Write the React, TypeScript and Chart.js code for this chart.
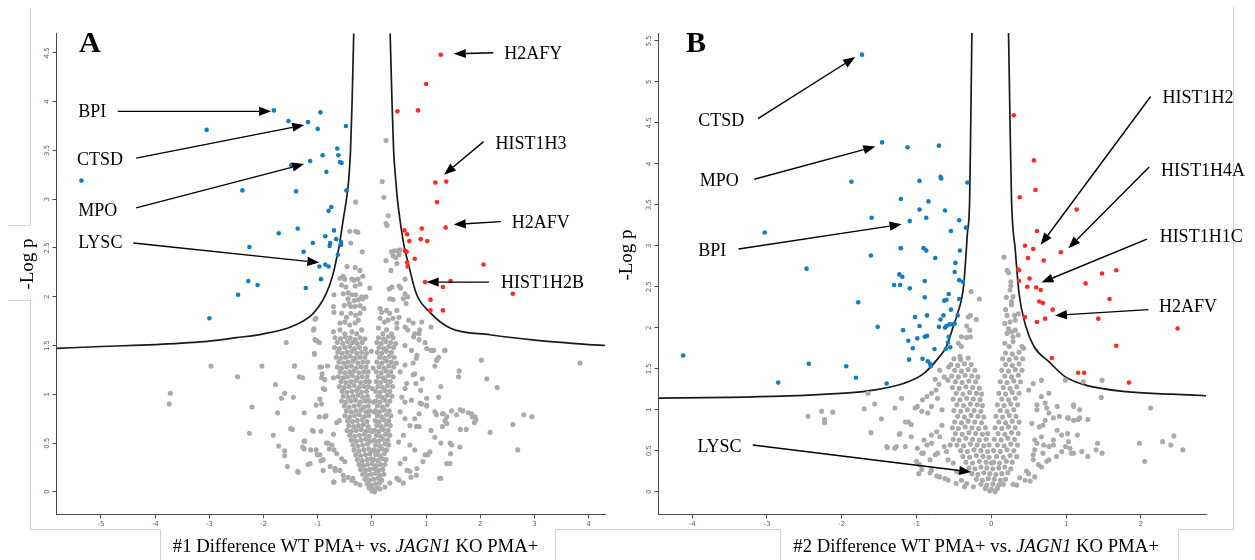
import React, { useEffect, useRef } from 'react';
import { Chart, registerables } from 'chart.js';
Chart.register(...registerables);

type P = [number, number];

// ---------------- Panel A data ----------------
const A_X_TICKS = [-5, -4, -3, -2, -1, 0, 1, 2, 3, 4];
const A_Y_TICKS = [0, 0.5, 1, 1.5, 2, 2.5, 3, 3.5, 4, 4.5];

const A_BLUE: P[] = [
  [-1.81, 3.91], [-1.54, 3.80], [-1.18, 3.79], [-0.95, 3.89], [-1.00, 3.72], [-0.48, 3.75], [-3.05, 3.71], [-5.36, 3.19],
  [-0.64, 3.52], [-0.91, 3.45], [-0.62, 3.45], [-0.59, 3.38], [-0.56, 3.37], [-1.14, 3.39], [-1.49, 3.35], [-0.84, 3.28],
  [-2.39, 3.09], [-1.40, 3.08], [-0.47, 3.09], [-0.75, 2.92], [-0.80, 2.88], [-1.72, 2.65], [-1.37, 2.70], [-0.70, 2.68],
  [-0.86, 2.62], [-0.66, 2.59], [-0.57, 2.56], [-0.77, 2.55], [-0.78, 2.52], [-0.57, 2.53], [-1.09, 2.55], [-2.26, 2.51],
  [-1.26, 2.46], [-0.63, 2.43], [-0.97, 2.31], [-0.86, 2.33], [-0.80, 2.31], [-0.94, 2.18], [-1.22, 2.09], [-2.28, 2.16],
  [-2.11, 2.12], [-2.47, 2.02], [-3.00, 1.78],
];

const A_RED: P[] = [
  [1.27, 4.48], [1.00, 4.18], [0.47, 3.90], [0.85, 3.91], [1.17, 3.17], [1.37, 3.18], [1.20, 2.97], [1.36, 2.71],
  [0.92, 2.70], [0.60, 2.68], [0.65, 2.64], [0.69, 2.57], [0.90, 2.59], [1.02, 2.57], [0.64, 2.46], [0.61, 2.47],
  [0.79, 2.39], [0.65, 2.35], [0.66, 2.31], [2.06, 2.33], [0.98, 2.15], [1.45, 2.16], [1.31, 2.10], [1.08, 1.97],
  [1.08, 1.86], [1.31, 1.86], [2.60, 2.03],
];

const A_GREY_UPPER: P[] = [
  [0.19, 3.18], [0.22, 3.02], [-0.30, 2.97], [0.26, 3.60], [0.30, 2.83], [0.26, 2.75], [0.28, 2.73], [-0.41, 2.67],
  [-0.30, 2.67], [-0.26, 2.66], [-0.39, 2.55], [-0.18, 2.46], [0.36, 2.46], [0.41, 2.47], [0.47, 2.47], [0.52, 2.48],
  [0.39, 2.42], [0.44, 2.40], [0.50, 2.43], [0.26, 2.37], [0.46, 2.34], [-0.46, 2.31], [-0.31, 2.30], [-0.22, 2.27],
  [-0.53, 2.21], [-0.59, 2.19], [-0.50, 2.18], [-0.37, 2.18], [-0.33, 2.17], [-0.26, 2.18], [-0.17, 2.21], [0.35, 2.27],
  [0.61, 2.18], [-0.04, 2.09], [-0.56, 2.12], [-0.48, 2.10], [-0.31, 2.11], [-0.22, 2.13], [0.32, 2.08], [0.37, 2.10],
  [0.50, 2.11], [0.53, 2.09], [0.61, 2.03], [0.66, 2.00], [-0.70, 2.02], [-0.53, 2.03], [-0.44, 2.04], [-0.37, 2.02],
  [-0.30, 2.02], [-0.19, 2.00], [-0.11, 2.00], [-0.44, 1.98], [-0.33, 1.96], [-0.25, 1.97], [-0.17, 1.98], [-0.51, 1.91],
  [-0.42, 1.93], [-0.39, 1.90], [-0.31, 1.90], [-0.22, 1.91], [-0.15, 1.88], [-0.71, 1.90], [0.33, 1.98], [0.39, 1.97],
  [0.58, 1.98], [0.63, 1.93], [0.15, 1.88], [0.18, 1.84], [0.27, 1.86], [0.33, 1.83], [0.46, 1.86], [0.50, 1.79],
  [-0.70, 1.84], [-0.56, 1.83], [-0.47, 1.79], [-0.39, 1.83], [-0.30, 1.81], [-0.22, 1.83], [-1.03, 1.78], [-0.59, 1.73],
  [-0.50, 1.74], [-0.41, 1.71], [-0.31, 1.73], [-0.25, 1.76], [0.15, 1.78], [0.23, 1.74], [0.30, 1.76], [0.39, 1.78],
  [0.46, 1.73], [0.61, 1.69], [0.66, 1.66], [0.92, 1.74], [1.09, 1.69], [-1.08, 1.66], [-0.71, 1.64], [-0.59, 1.66],
  [-0.50, 1.62], [-0.37, 1.64], [-0.28, 1.62], [-0.19, 1.66], [0.12, 1.68], [0.20, 1.62], [0.27, 1.66], [0.36, 1.62],
  [0.46, 1.68], [0.77, 1.59], [0.87, 1.62],
];

const A_GREY_CORE: P[] = [
  [-0.68, 1.58], [-0.58, 1.57], [-0.49, 1.59], [-0.40, 1.58], [-0.31, 1.56], [-0.22, 1.58], [-0.13, 1.57],
  [-0.64, 1.53], [-0.54, 1.52], [-0.45, 1.54], [-0.36, 1.53], [-0.27, 1.52], [-0.18, 1.53],
  [-0.69, 1.48], [-0.60, 1.47], [-0.50, 1.48], [-0.41, 1.49], [-0.32, 1.47], [-0.23, 1.48], [-0.12, 1.47],
  [-0.63, 1.43], [-0.55, 1.42], [-0.46, 1.43], [-0.37, 1.44], [-0.28, 1.42], [-0.19, 1.43], [-0.10, 1.42],
  [-0.66, 1.38], [-0.58, 1.37], [-0.49, 1.38], [-0.40, 1.39], [-0.31, 1.37], [-0.22, 1.38], [-0.13, 1.38],
  [-0.61, 1.33], [-0.52, 1.32], [-0.44, 1.33], [-0.35, 1.34], [-0.26, 1.32], [-0.17, 1.33], [-0.08, 1.33],
  [-0.64, 1.28], [-0.56, 1.27], [-0.47, 1.28], [-0.38, 1.29], [-0.29, 1.27], [-0.20, 1.28], [-0.11, 1.28],
  [-0.59, 1.23], [-0.50, 1.22], [-0.41, 1.23], [-0.33, 1.24], [-0.24, 1.22], [-0.15, 1.23], [-0.07, 1.23],
  [-0.62, 1.18], [-0.53, 1.17], [-0.45, 1.18], [-0.36, 1.19], [-0.27, 1.17], [-0.18, 1.18], [-0.09, 1.18],
  [-0.57, 1.13], [-0.48, 1.12], [-0.39, 1.13], [-0.30, 1.14], [-0.21, 1.12], [-0.12, 1.13], [-0.05, 1.13],
  [-0.60, 1.08], [-0.51, 1.07], [-0.42, 1.08], [-0.33, 1.09], [-0.24, 1.07], [-0.15, 1.08], [-0.07, 1.08],
  [-0.55, 1.03], [-0.46, 1.02], [-0.37, 1.03], [-0.28, 1.04], [-0.19, 1.02], [-0.10, 1.03],
  [-0.53, 0.98], [-0.44, 0.97], [-0.35, 0.98], [-0.26, 0.99], [-0.17, 0.97], [-0.08, 0.98],
  [-0.56, 0.93], [-0.48, 0.92], [-0.39, 0.93], [-0.30, 0.94], [-0.21, 0.92], [-0.12, 0.93], [-0.05, 0.93],
  [-0.51, 0.88], [-0.42, 0.87], [-0.33, 0.88], [-0.24, 0.89], [-0.15, 0.87], [-0.07, 0.88],
  [-0.47, 0.83], [-0.38, 0.82], [-0.29, 0.83], [-0.20, 0.84], [-0.11, 0.82], [-0.04, 0.83],
  [-0.50, 0.78], [-0.41, 0.77], [-0.32, 0.78], [-0.23, 0.79], [-0.14, 0.77], [-0.06, 0.78],
  [-0.45, 0.73], [-0.36, 0.72], [-0.27, 0.73], [-0.18, 0.74], [-0.09, 0.72],
  [-0.43, 0.68], [-0.34, 0.67], [-0.25, 0.68], [-0.16, 0.69], [-0.07, 0.67],
  [-0.46, 0.63], [-0.38, 0.62], [-0.29, 0.63], [-0.20, 0.64], [-0.11, 0.62], [-0.03, 0.63],
  [-0.41, 0.58], [-0.32, 0.57], [-0.23, 0.58], [-0.14, 0.59], [-0.05, 0.57],
  [-0.38, 0.53], [-0.29, 0.52], [-0.20, 0.53], [-0.11, 0.54], [-0.03, 0.52],
  [-0.35, 0.48], [-0.26, 0.47], [-0.17, 0.48], [-0.08, 0.49],
  [-0.33, 0.43], [-0.24, 0.42], [-0.15, 0.43], [-0.06, 0.44], [0.00, 0.42],
  [-0.30, 0.38], [-0.21, 0.37], [-0.12, 0.38], [-0.04, 0.39],
  [-0.27, 0.33], [-0.18, 0.32], [-0.09, 0.33], [-0.01, 0.34],
  [0.12, 1.58], [0.21, 1.57], [0.30, 1.59], [0.39, 1.58],
  [0.09, 1.53], [0.17, 1.52], [0.26, 1.54], [0.35, 1.53], [0.44, 1.52],
  [0.13, 1.48], [0.22, 1.47], [0.31, 1.49], [0.40, 1.48],
  [0.10, 1.43], [0.18, 1.42], [0.27, 1.44], [0.36, 1.43],
  [0.14, 1.38], [0.23, 1.37], [0.32, 1.39], [0.41, 1.38],
  [0.09, 1.33], [0.18, 1.32], [0.27, 1.34], [0.36, 1.33], [0.45, 1.32],
  [0.13, 1.28], [0.22, 1.27], [0.31, 1.29], [0.40, 1.28],
  [0.08, 1.23], [0.17, 1.22], [0.26, 1.24], [0.35, 1.23],
  [0.12, 1.18], [0.21, 1.17], [0.30, 1.19], [0.39, 1.18],
  [0.08, 1.13], [0.16, 1.12], [0.25, 1.14], [0.34, 1.13],
  [0.11, 1.08], [0.20, 1.07], [0.29, 1.09], [0.38, 1.08],
  [0.07, 1.03], [0.15, 1.02], [0.24, 1.04], [0.33, 1.03],
  [0.11, 0.98], [0.19, 0.97], [0.28, 0.99], [0.37, 0.98],
  [0.07, 0.93], [0.15, 0.92], [0.24, 0.94], [0.33, 0.93],
  [0.10, 0.88], [0.19, 0.87], [0.28, 0.89],
  [0.06, 0.83], [0.14, 0.82], [0.23, 0.84], [0.32, 0.83],
  [0.10, 0.78], [0.18, 0.77], [0.27, 0.79], [0.35, 0.78],
  [0.06, 0.73], [0.14, 0.72], [0.22, 0.74], [0.31, 0.73],
  [0.09, 0.68], [0.17, 0.67], [0.26, 0.69], [0.34, 0.68],
  [0.05, 0.63], [0.13, 0.62], [0.21, 0.64], [0.30, 0.63],
  [0.08, 0.58], [0.16, 0.57], [0.25, 0.59], [0.33, 0.58],
  [0.04, 0.53], [0.12, 0.52], [0.20, 0.54], [0.29, 0.53],
  [0.07, 0.48], [0.15, 0.47], [0.24, 0.49], [0.31, 0.48],
  [0.04, 0.43], [0.11, 0.42], [0.19, 0.44], [0.27, 0.43],
  [0.07, 0.38], [0.15, 0.37], [0.23, 0.39],
  [0.03, 0.33], [0.11, 0.32], [0.19, 0.34], [0.26, 0.33],
  [-0.24, 0.28], [-0.16, 0.27], [-0.08, 0.28], [0.00, 0.29], [0.08, 0.27], [0.16, 0.28], [0.24, 0.28],
  [-0.21, 0.23], [-0.12, 0.22], [-0.04, 0.23], [0.04, 0.24], [0.12, 0.22], [0.20, 0.23],
  [-0.17, 0.18], [-0.09, 0.17], [-0.01, 0.18], [0.07, 0.19], [0.15, 0.17], [0.22, 0.18],
  [-0.13, 0.13], [-0.05, 0.12], [0.03, 0.13], [0.11, 0.14], [0.18, 0.12],
  [-0.09, 0.08], [-0.01, 0.07], [0.07, 0.08], [0.14, 0.09],
  [-0.05, 0.04], [0.03, 0.03], [0.10, 0.04], [0.00, 0.01], [0.05, 0.00],
];

const A_GREY_OUTER: P[] = [
  [-1.58, 1.53], [-2.97, 1.29], [-2.03, 1.29], [-2.48, 1.18], [-1.43, 1.29], [-1.34, 1.18], [-1.28, 1.17], [-3.72, 1.01],
  [-3.74, 0.90], [-1.78, 1.10], [-1.61, 1.01], [-1.67, 0.96], [-1.45, 0.97], [-2.21, 0.87], [-1.74, 0.81], [-1.25, 0.81],
  [-1.50, 0.65], [-1.47, 0.64], [-2.26, 0.60], [-1.82, 0.58], [-1.72, 0.47], [-1.61, 0.42], [-1.61, 0.37], [-1.56, 0.26],
  [-1.36, 0.20], [-1.25, 0.52], [-1.18, 0.28], [-1.05, 1.77], [-1.07, 1.67], [-1.02, 1.55], [-1.06, 1.41], [-0.96, 1.28],
  [-0.92, 1.21], [-0.87, 1.15], [-0.90, 1.06], [-1.03, 0.89], [-0.97, 0.77], [-0.87, 0.77], [-1.10, 0.63], [-1.28, 0.46],
  [-1.03, 0.43], [-1.01, 0.38], [-0.94, 0.32], [-0.81, 0.50], [-0.70, 0.43], [-0.90, 0.22], [-0.68, 0.22], [-0.70, 0.10],
  [-0.52, 0.12], [-0.37, 0.12], [-0.30, 0.09],
  [1.14, 1.45], [1.23, 1.38], [1.34, 1.45], [1.16, 1.29], [1.61, 1.24], [1.60, 1.18], [2.02, 1.35], [2.12, 1.16],
  [2.31, 1.07], [3.84, 1.32], [1.27, 1.08], [1.23, 0.97], [0.92, 0.90], [1.01, 0.88], [1.16, 0.82], [1.30, 0.80],
  [1.38, 0.77], [1.47, 0.83], [1.63, 0.84], [1.78, 0.81], [1.85, 0.77], [1.92, 0.74], [1.89, 0.71], [2.80, 0.79],
  [2.95, 0.77], [2.60, 0.69], [2.18, 0.61], [2.69, 0.43], [1.63, 0.64], [1.74, 0.64], [1.38, 0.70], [1.30, 0.67],
  [1.09, 0.63], [1.16, 0.56], [1.27, 0.50], [0.87, 0.80], [0.79, 0.75], [0.87, 0.67], [1.44, 0.50], [1.45, 0.39],
  [1.38, 0.29], [1.27, 0.14], [0.83, 0.24], [0.94, 0.31], [1.03, 0.38], [0.65, 0.22], [0.72, 0.15], [0.50, 0.12],
  [0.58, 0.09], [0.93, 1.16], [0.90, 1.04], [1.01, 0.96], [0.79, 1.21], [0.76, 1.32], [0.83, 1.40], [0.87, 1.56],
  [0.79, 1.62], [0.88, 1.66], [1.09, 1.45], [1.20, 1.35], [0.68, 1.76], [0.76, 1.73],
  [-1.43, 1.29], [-1.05, 1.56], [-0.97, 1.53], [-1.06, 1.42], [-0.93, 1.28], [-0.82, 1.29], [-0.93, 1.17], [-0.71, 1.17],
  [-0.87, 1.05], [-0.96, 0.95], [-0.93, 0.90], [-0.85, 0.78], [-0.60, 0.73], [-0.65, 0.71], [-0.71, 0.59], [-0.84, 0.50],
  [-0.74, 0.48], [-0.79, 0.44], [-1.08, 0.62], [-0.94, 0.62], [-1.24, 0.52], [-1.25, 0.44], [-1.13, 0.43], [-0.96, 0.38],
  [-0.90, 0.33], [-0.65, 0.39], [-0.56, 0.34], [-0.50, 0.31], [-0.77, 0.26], [-0.68, 0.24], [-0.59, 0.22], [-0.53, 0.17],
  [-0.44, 0.15], [-0.35, 0.14], [-0.71, 0.10], [-0.22, 0.07], [-1.37, 0.21], [-1.14, 0.29],
  [0.61, 1.50], [0.73, 1.45], [0.82, 1.37], [0.98, 1.53], [1.01, 1.47], [1.19, 1.35], [1.35, 1.45], [0.61, 1.30],
  [0.52, 1.23], [0.76, 1.20], [0.81, 1.11], [0.64, 1.11], [0.61, 1.06], [0.55, 0.97], [0.61, 0.92], [0.73, 0.94],
  [0.89, 0.91], [1.01, 0.89], [0.52, 0.82], [0.61, 0.75], [0.70, 0.68], [0.82, 0.67], [0.58, 0.58], [0.49, 0.51],
  [0.70, 0.48], [0.79, 0.43], [0.61, 0.34], [0.52, 0.29], [0.70, 0.21], [0.82, 0.17], [0.46, 0.14], [0.33, 0.09],
  [0.24, 0.05], [0.15, 0.03], [1.19, 0.79], [1.32, 0.80], [1.56, 0.79], [1.68, 0.83], [1.84, 0.80], [1.90, 0.77],
  [1.35, 0.73], [1.47, 0.48], [1.62, 0.46], [1.44, 0.29], [1.07, 0.41], [0.98, 0.38], [1.25, 0.14],
  [0.02, 1.27], [0.01, 1.06], [0.04, 0.82], [0.00, 0.62], [-0.01, 1.44], [0.03, 0.92],
];

const A_CURVE_L: P[] = [
  [-5.82, 1.47], [-5, 1.49], [-4, 1.51], [-3, 1.545], [-2.5, 1.58], [-2, 1.62], [-1.5, 1.69], [-1.1, 1.82],
  [-0.9, 1.97], [-0.78, 2.12], [-0.7, 2.27], [-0.65, 2.4], [-0.61, 2.5], [-0.53, 2.79], [-0.47, 3.0],
  [-0.43, 3.19], [-0.395, 3.5], [-0.366, 4.0], [-0.336, 4.7],
];
const A_CURVE_R: P[] = [
  [0.336, 4.7], [0.37, 4.0], [0.40, 3.5], [0.44, 3.19], [0.47, 3.0], [0.54, 2.7], [0.6, 2.5], [0.67, 2.34],
  [0.82, 2.03], [1.07, 1.84], [1.44, 1.68], [2.18, 1.61], [3, 1.555], [4, 1.51], [4.3, 1.5],
];

const A_NOTES = [
  { text: 'BPI', tx: -5.42, ty: 3.89, ax: -4.69, ay: 3.90, bx: -1.86, by: 3.90 },
  { text: 'CTSD', tx: -5.44, ty: 3.40, ax: -4.35, ay: 3.42, bx: -1.25, by: 3.76 },
  { text: 'MPO', tx: -5.42, ty: 2.88, ax: -4.35, ay: 2.91, bx: -1.25, by: 3.36 },
  { text: 'LYSC', tx: -5.42, ty: 2.55, ax: -4.40, ay: 2.55, bx: -0.97, by: 2.35 },
  { text: 'H2AFY', tx: 2.44, ty: 4.49, ax: 2.24, ay: 4.50, bx: 1.51, by: 4.49 },
  { text: 'HIST1H3', tx: 2.28, ty: 3.56, ax: 2.06, ay: 3.59, bx: 1.33, by: 3.25 },
  { text: 'H2AFV', tx: 2.58, ty: 2.75, ax: 2.38, ay: 2.77, bx: 1.51, by: 2.74 },
  { text: 'HIST1H2B', tx: 2.38, ty: 2.14, ax: 2.16, ay: 2.15, bx: 1.01, by: 2.15 },
];

// ---------------- Panel B data ----------------
const B_X_TICKS = [-4, -3, -2, -1, 0, 1, 2];
const B_Y_TICKS = [0, 0.5, 1, 1.5, 2, 2.5, 3, 3.5, 4, 4.5, 5, 5.5];

const B_BLUE: P[] = [
  [-1.73, 5.33], [-1.46, 4.26], [-1.12, 4.20], [-0.70, 4.22], [-1.87, 3.78], [-0.96, 3.79], [-0.68, 3.84], [-0.67, 3.82],
  [-0.32, 3.77], [-1.21, 3.57], [-0.84, 3.54], [-0.96, 3.44], [-0.62, 3.43], [-1.60, 3.34], [-0.87, 3.34], [-1.09, 3.30],
  [-0.43, 3.31], [-0.34, 3.22], [-0.54, 3.18], [-3.03, 3.16], [-1.21, 2.97], [-0.905, 2.97], [-0.87, 2.94], [-0.42, 2.94],
  [-1.61, 2.88], [-0.75, 2.85], [-2.47, 2.72], [-0.48, 2.79], [-0.49, 2.68], [-1.23, 2.65], [-1.19, 2.62], [-0.43, 2.58],
  [-0.38, 2.56], [-1.30, 2.52], [-1.22, 2.52], [-0.89, 2.57], [-1.09, 2.48], [-0.89, 2.37], [-0.57, 2.41], [-0.63, 2.33],
  [-0.60, 2.34], [-0.43, 2.35], [-0.54, 2.22], [-0.86, 2.15], [-1.02, 2.13], [-0.64, 2.15], [-0.68, 2.10], [-0.45, 2.15],
  [-0.96, 2.02], [-1.18, 1.97], [-0.70, 2.01], [-0.62, 2.00], [-0.60, 2.02], [-0.56, 2.04], [-0.52, 2.04], [-0.49, 2.05],
  [-0.89, 1.89], [-0.86, 1.90], [-0.99, 1.87], [-1.11, 1.84], [-1.05, 1.75], [-0.76, 1.74], [-0.58, 1.82], [-0.55, 1.76],
  [-0.61, 1.74], [-0.57, 1.89], [-1.10, 1.61], [-0.92, 1.62], [-0.85, 1.59], [-0.82, 1.56], [-0.81, 1.53], [-4.12, 1.66],
  [-2.44, 1.56], [-1.94, 1.53], [-1.81, 1.39], [-2.85, 1.33], [-1.40, 1.32], [-1.78, 2.31], [-1.52, 2.01],
];

const B_RED: P[] = [
  [0.30, 4.59], [0.57, 4.04], [0.59, 3.68], [0.38, 3.59], [1.14, 3.44], [0.61, 3.18], [0.45, 3.00], [0.56, 2.96],
  [0.93, 2.92], [0.49, 2.85], [0.70, 2.82], [0.36, 2.71], [0.37, 2.70], [1.48, 2.66], [1.67, 2.70], [0.51, 2.60],
  [0.37, 2.57], [0.48, 2.50], [0.60, 2.49], [0.66, 2.46], [0.64, 2.32], [0.69, 2.30], [0.82, 2.22], [0.45, 2.13],
  [0.61, 2.07], [0.72, 2.11], [1.26, 2.54], [1.58, 2.35], [1.43, 2.11], [2.49, 1.99], [1.67, 1.78], [0.81, 1.63],
  [1.16, 1.45], [1.24, 1.45], [1.84, 1.33],
];

const B_GREY_UPPER: P[] = [
  [0.17, 2.86], [0.21, 2.70], [0.23, 2.67], [0.26, 2.56], [0.26, 2.51], [0.25, 2.46], [0.20, 2.37], [0.29, 2.38],
  [0.27, 2.32], [0.27, 2.28], [0.19, 2.22], [0.21, 2.15], [0.31, 2.15], [0.18, 2.05], [0.25, 2.07], [0.32, 2.09],
  [0.36, 2.17], [0.23, 1.99], [0.27, 1.95], [0.32, 1.97], [0.21, 1.93], [0.29, 1.89], [0.36, 1.91], [0.18, 1.81],
  [0.24, 1.77], [0.29, 1.83], [0.41, 1.77], [0.43, 1.75], [-0.27, 2.44], [-0.16, 2.35], [-0.28, 2.15], [-0.31, 2.13],
  [-0.20, 2.10], [-0.33, 2.02], [-0.29, 1.97], [-0.40, 1.89], [-0.33, 1.88], [-0.28, 1.89], [-0.44, 1.81], [-0.40, 1.77],
];

const B_GREY_CORE: P[] = [
  [-0.50, 1.62], [-0.41, 1.61], [-0.31, 1.63],
  [-0.54, 1.55], [-0.45, 1.54], [-0.36, 1.56], [-0.27, 1.55],
  [-0.49, 1.48], [-0.40, 1.47], [-0.31, 1.49], [-0.22, 1.48],
  [-0.53, 1.41], [-0.44, 1.40], [-0.35, 1.42], [-0.26, 1.41], [-0.18, 1.40],
  [-0.48, 1.34], [-0.39, 1.33], [-0.30, 1.35], [-0.21, 1.34],
  [-0.52, 1.27], [-0.43, 1.26], [-0.34, 1.28], [-0.25, 1.27], [-0.16, 1.26],
  [-0.47, 1.20], [-0.38, 1.19], [-0.29, 1.21], [-0.20, 1.20], [-0.13, 1.19],
  [-0.51, 1.13], [-0.42, 1.12], [-0.33, 1.14], [-0.24, 1.13], [-0.15, 1.12],
  [-0.46, 1.06], [-0.37, 1.05], [-0.28, 1.07], [-0.19, 1.06], [-0.12, 1.05],
  [-0.50, 0.99], [-0.41, 0.98], [-0.32, 1.00], [-0.23, 0.99], [-0.14, 0.98],
  [-0.45, 0.92], [-0.36, 0.91], [-0.27, 0.93], [-0.18, 0.92], [-0.10, 0.91],
  [-0.49, 0.85], [-0.40, 0.84], [-0.31, 0.86], [-0.22, 0.85], [-0.13, 0.84],
  [-0.52, 0.78], [-0.44, 0.77], [-0.35, 0.79], [-0.26, 0.78], [-0.17, 0.77], [-0.08, 0.78],
  [-0.48, 0.71], [-0.39, 0.70], [-0.30, 0.72], [-0.21, 0.71], [-0.12, 0.70], [-0.05, 0.71],
  [-0.51, 0.64], [-0.43, 0.63], [-0.34, 0.65], [-0.25, 0.64], [-0.16, 0.63], [-0.07, 0.64],
  [-0.46, 0.57], [-0.37, 0.56], [-0.28, 0.58], [-0.19, 0.57], [-0.10, 0.56], [-0.03, 0.57],
  [-0.41, 0.50], [-0.32, 0.49], [-0.23, 0.51], [-0.14, 0.50], [-0.05, 0.49],
  [-0.38, 0.43], [-0.29, 0.42], [-0.20, 0.44], [-0.11, 0.43], [-0.03, 0.42],
  [-0.34, 0.36], [-0.25, 0.35], [-0.16, 0.37], [-0.07, 0.36], [0.00, 0.35],
  [0.19, 1.69], [0.28, 1.68], [0.37, 1.70],
  [0.15, 1.62], [0.24, 1.61], [0.33, 1.63], [0.42, 1.62],
  [0.19, 1.55], [0.28, 1.54], [0.37, 1.56],
  [0.14, 1.48], [0.23, 1.47], [0.32, 1.49], [0.41, 1.48],
  [0.18, 1.41], [0.27, 1.40], [0.36, 1.42],
  [0.12, 1.34], [0.21, 1.33], [0.30, 1.35], [0.39, 1.34],
  [0.16, 1.27], [0.25, 1.26], [0.34, 1.28],
  [0.10, 1.20], [0.19, 1.19], [0.28, 1.21], [0.37, 1.20],
  [0.14, 1.13], [0.23, 1.12], [0.32, 1.14],
  [0.08, 1.06], [0.17, 1.05], [0.26, 1.07], [0.35, 1.06],
  [0.12, 0.99], [0.21, 0.98], [0.30, 1.00],
  [0.06, 0.92], [0.15, 0.91], [0.24, 0.93], [0.33, 0.92],
  [0.10, 0.85], [0.19, 0.84], [0.28, 0.86], [0.37, 0.85],
  [0.05, 0.78], [0.14, 0.77], [0.23, 0.79], [0.32, 0.78],
  [0.09, 0.71], [0.18, 0.70], [0.27, 0.72], [0.36, 0.71],
  [0.04, 0.64], [0.13, 0.63], [0.22, 0.65], [0.31, 0.64],
  [0.08, 0.57], [0.17, 0.56], [0.26, 0.58], [0.35, 0.57],
  [0.03, 0.50], [0.12, 0.49], [0.21, 0.51], [0.30, 0.50],
  [0.07, 0.43], [0.16, 0.42], [0.25, 0.44], [0.34, 0.43],
  [0.03, 0.36], [0.11, 0.35], [0.20, 0.37], [0.28, 0.36],
  [-0.30, 0.29], [-0.22, 0.28], [-0.14, 0.30], [-0.06, 0.29], [0.02, 0.28], [0.10, 0.29], [0.18, 0.30], [0.26, 0.28],
  [-0.26, 0.22], [-0.18, 0.21], [-0.10, 0.23], [-0.02, 0.22], [0.06, 0.21], [0.14, 0.22], [0.22, 0.23],
  [-0.20, 0.15], [-0.12, 0.14], [-0.04, 0.16], [0.04, 0.15], [0.12, 0.14], [0.19, 0.15],
  [-0.14, 0.09], [-0.06, 0.08], [0.02, 0.09], [0.10, 0.08], [0.16, 0.09],
  [-0.08, 0.04], [0.00, 0.03], [0.08, 0.04], [-0.02, 0.01], [0.05, 0.00],
];

const B_GREY_OUTER: P[] = [
  [-2.45, 0.92], [-2.27, 0.98], [-2.23, 0.88], [-2.23, 0.84], [-2.12, 0.97], [-1.70, 1.01], [-1.65, 1.20], [-1.56, 1.07],
  [-1.47, 0.89], [-1.61, 0.72], [-1.39, 0.54], [-1.27, 0.55], [-1.23, 0.70], [-1.11, 0.85], [-1.07, 0.82], [-0.96, 0.33],
  [-0.80, 0.26], [-0.97, 0.22], [-0.82, 0.23], [-0.99, 1.04], [-0.93, 0.98], [-0.80, 1.04], [-0.66, 1.00], [-0.72, 1.14],
  [-0.74, 1.24], [-0.85, 0.96], [-0.90, 0.63], [-0.80, 0.59], [-0.69, 0.67], [-0.63, 0.55], [-0.72, 0.47], [-0.58, 0.39],
  [-0.99, 0.53], [-0.93, 0.47], [-1.07, 0.67], [-1.15, 0.55], [-0.69, 0.18], [-0.58, 0.14], [-0.47, 0.10], [-0.36, 0.06],
  [-0.69, 1.48], [-0.63, 1.40], [-0.57, 1.52], [-0.58, 1.36], [-0.42, 1.65],
  [0.88, 1.04], [0.91, 0.92], [1.02, 0.90], [1.10, 0.87], [1.18, 0.90], [1.10, 1.04], [1.18, 1.00], [1.29, 0.88],
  [1.23, 1.34], [1.47, 1.15], [1.48, 1.36], [2.13, 1.02], [1.98, 0.59], [2.05, 0.37], [2.29, 0.61], [2.40, 0.57],
  [2.44, 0.68], [2.56, 0.51], [1.42, 0.59], [1.48, 0.47], [1.40, 0.51], [1.15, 0.69], [1.21, 0.49], [1.29, 0.43],
  [0.99, 0.55], [1.07, 0.47], [1.02, 0.71], [0.88, 0.75], [0.83, 0.63], [0.77, 0.55], [0.69, 0.47], [0.77, 0.39],
  [0.67, 0.67], [0.61, 0.59], [0.58, 0.51], [0.56, 0.39], [0.67, 0.30], [0.50, 0.22], [0.58, 0.18], [0.45, 0.14],
  [0.34, 0.08], [0.72, 0.87], [0.64, 0.79], [0.77, 0.96], [0.61, 1.00], [0.72, 1.08], [0.67, 1.16], [0.77, 1.20],
  [0.50, 1.24], [0.56, 1.32], [0.67, 1.36], [0.99, 1.36],
  [-0.75, 1.37], [-0.70, 1.31], [-0.80, 1.20], [-0.92, 1.12], [-0.86, 1.16], [-1.02, 1.02], [-1.20, 1.14], [-1.29, 1.02],
  [-1.15, 0.85], [-1.22, 0.71], [-1.40, 0.55], [-1.29, 0.53], [-0.80, 0.69], [-0.73, 0.73], [-0.66, 0.81], [-0.86, 0.57],
  [-0.91, 0.47], [-0.82, 0.39], [-0.75, 0.45], [-1.00, 0.37], [-0.93, 0.27], [-0.73, 0.19], [-0.62, 0.16], [-0.60, 0.49],
  [-0.55, 0.57], [-0.51, 0.35], [-0.46, 0.24], [-0.40, 0.14], [-0.33, 0.10], [-0.24, 0.06],
  [0.61, 1.06], [0.74, 1.02], [0.54, 0.83], [0.69, 0.81], [0.83, 0.90], [0.94, 0.69], [1.03, 0.61], [0.83, 0.57],
  [0.58, 0.63], [0.70, 0.57], [0.56, 0.45], [0.63, 0.33], [0.74, 0.37], [0.87, 0.43], [0.94, 0.49], [1.05, 0.53],
  [1.10, 0.47], [0.47, 0.25], [0.38, 0.17], [0.29, 0.09], [0.52, 0.13], [1.10, 1.06], [1.03, 0.90], [1.16, 0.88],
];

const B_CURVE_L: P[] = [
  [-4.45, 1.14], [-3.5, 1.15], [-2.8, 1.165], [-2.2, 1.19], [-1.72, 1.22], [-1.175, 1.32], [-0.905, 1.44],
  [-0.69, 1.65], [-0.6, 1.77], [-0.525, 1.97], [-0.46, 2.15], [-0.37, 2.52], [-0.32, 3.15], [-0.29, 3.56],
  [-0.275, 4.5], [-0.26, 5.594],
];
const B_CURVE_R: P[] = [
  [0.23, 5.594], [0.25, 4.5], [0.27, 3.56], [0.32, 2.95], [0.37, 2.42], [0.46, 2.02], [0.57, 1.77], [0.77, 1.585],
  [0.99, 1.40], [1.26, 1.30], [1.80, 1.22], [2.4, 1.19], [2.87, 1.17],
];

const B_NOTES = [
  { text: 'CTSD', tx: -3.92, ty: 4.52, ax: -3.12, ay: 4.55, bx: -1.82, by: 5.30 },
  { text: 'MPO', tx: -3.90, ty: 3.79, ax: -3.17, ay: 3.81, bx: -1.55, by: 4.21 },
  { text: 'BPI', tx: -3.92, ty: 2.93, ax: -3.38, ay: 2.96, bx: -1.20, by: 3.26 },
  { text: 'HIST1H2', tx: 2.29, ty: 4.80, ax: 2.13, ay: 4.82, bx: 0.66, by: 3.01 },
  { text: 'HIST1H4A', tx: 2.27, ty: 3.91, ax: 2.11, ay: 3.96, bx: 1.03, by: 2.97 },
  { text: 'HIST1H1C', tx: 2.25, ty: 3.10, ax: 2.08, ay: 3.08, bx: 0.67, by: 2.55 },
  { text: 'H2AFV', tx: 2.24, ty: 2.25, ax: 2.10, ay: 2.22, bx: 0.85, by: 2.15 },
  { text: 'LYSC', tx: -3.93, ty: 0.54, ax: -3.19, ay: 0.57, bx: -0.27, by: 0.24 },
];

// ---------------- styling / layout ----------------
const GREY = '#aaaaaa';
const BLUE = '#137dc3';
const RED = '#ff2a1c';
const AXIS = '#4a4a4a';
const TICK_TEXT = '#55606b';
const SERIF = '"Liberation Serif", "DejaVu Serif", serif';

const PANEL_A = {
  offsetX: 0, canvasW: 620, xMin: -5.82, xMax: 4.3, yMin: -0.23, yMax: 4.70,
  yAxisW: 56.5, padRight: 15, padTop: 33.3, xAxisH: 45.7,
  xTicks: A_X_TICKS, yTicks: A_Y_TICKS,
  grey: [...A_GREY_UPPER, ...A_GREY_CORE, ...A_GREY_OUTER], blue: A_BLUE, red: A_RED,
  curveL: A_CURVE_L, curveR: A_CURVE_R, notes: A_NOTES,
  letter: 'A', letterX: 79, yTitleX: 28, yTitleY: 264, xTitlePrefix: '#1', xTitleCenter: 355.5,
};
const PANEL_B = {
  offsetX: 600, canvasW: 655, xMin: -4.45, xMax: 2.87, yMin: -0.276, yMax: 5.594,
  yAxisW: 58.5, padRight: 49, padTop: 33, xAxisH: 45.7,
  xTicks: B_X_TICKS, yTicks: B_Y_TICKS,
  grey: [...B_GREY_UPPER, ...B_GREY_CORE, ...B_GREY_OUTER], blue: B_BLUE, red: B_RED,
  curveL: B_CURVE_L, curveR: B_CURVE_R, notes: B_NOTES,
  letter: 'B', letterX: 686, yTitleX: 627, yTitleY: 255, xTitlePrefix: '#2', xTitleCenter: 976,
};

function drawArrow(ctx: CanvasRenderingContext2D, x1: number, y1: number, x2: number, y2: number) {
  const ang = Math.atan2(y2 - y1, x2 - x1);
  const hl = 12, hw = 4.6;
  const bx = x2 - hl * Math.cos(ang), by = y2 - hl * Math.sin(ang);
  ctx.beginPath();
  ctx.moveTo(x1, y1);
  ctx.lineTo(bx, by);
  ctx.lineWidth = 1.4;
  ctx.stroke();
  ctx.beginPath();
  ctx.moveTo(x2, y2);
  ctx.lineTo(bx + hw * Math.sin(ang), by - hw * Math.cos(ang));
  ctx.lineTo(bx - hw * Math.sin(ang), by + hw * Math.cos(ang));
  ctx.closePath();
  ctx.fill();
}

function makeDecor(p: any) {
  return {
    id: 'decor' + p.letter,
    afterDatasetsDraw(chart: any) {
      const ctx: CanvasRenderingContext2D = chart.ctx;
      const xs = chart.scales.x, ys = chart.scales.y;
      ctx.save();
      ctx.fillStyle = '#000';
      ctx.strokeStyle = '#000';
      ctx.font = `18px ${SERIF}`;
      ctx.textAlign = 'left';
      ctx.textBaseline = 'middle';
      for (const n of p.notes) {
        ctx.fillText(n.text, xs.getPixelForValue(n.tx), ys.getPixelForValue(n.ty));
        drawArrow(ctx, xs.getPixelForValue(n.ax), ys.getPixelForValue(n.ay), xs.getPixelForValue(n.bx), ys.getPixelForValue(n.by));
      }
      ctx.translate(-p.offsetX, 0);
      ctx.font = `bold 30px ${SERIF}`;
      ctx.textBaseline = 'alphabetic';
      ctx.fillText(p.letter, p.letterX, 52);
      ctx.save();
      ctx.translate(p.yTitleX, p.yTitleY);
      ctx.rotate(-Math.PI / 2);
      ctx.font = `19px ${SERIF}`;
      ctx.textAlign = 'center';
      ctx.textBaseline = 'middle';
      ctx.fillText('-Log p', 0, 0);
      ctx.restore();
      const parts = [
        { t: `${p.xTitlePrefix} Difference WT PMA+ vs. `, f: `18.7px ${SERIF}` },
        { t: 'JAGN1', f: `italic 18.7px ${SERIF}` },
        { t: ' KO PMA+', f: `18.7px ${SERIF}` },
      ];
      let total = 0;
      for (const pt of parts) { ctx.font = pt.f; total += ctx.measureText(pt.t).width; }
      let x = p.xTitleCenter - total / 2;
      ctx.textAlign = 'left';
      ctx.textBaseline = 'alphabetic';
      for (const pt of parts) {
        ctx.font = pt.f;
        ctx.fillText(pt.t, x, 551.5);
        x += ctx.measureText(pt.t).width;
      }
      ctx.restore();
    },
  };
}

function buildChart(canvas: HTMLCanvasElement, p: any) {
  const toXY = (arr: P[]) => arr.map(([x, y]) => ({ x, y }));
  const axisCommon = {
    type: 'linear' as const,
    grid: { display: true, drawOnChartArea: false, drawTicks: true, tickLength: 4, color: AXIS, lineWidth: 1 },
    border: { display: true, color: AXIS, width: 1 },
  };
  const tickFont = { family: '"DejaVu Sans", sans-serif', size: 7 };
  return new Chart(canvas, {
    type: 'scatter',
    data: {
      datasets: [
        { data: toXY(p.grey), pointRadius: 2.55, pointBackgroundColor: GREY, pointBorderWidth: 0, showLine: false },
        { data: toXY(p.blue), pointRadius: 2.3, pointBackgroundColor: BLUE, pointBorderWidth: 0, showLine: false },
        { data: toXY(p.red), pointRadius: 2.3, pointBackgroundColor: RED, pointBorderWidth: 0, showLine: false },
        { data: toXY(p.curveL), showLine: true, pointRadius: 0, borderColor: '#1a1a1a', borderWidth: 1.7, cubicInterpolationMode: 'monotone', fill: false },
        { data: toXY(p.curveR), showLine: true, pointRadius: 0, borderColor: '#1a1a1a', borderWidth: 1.7, cubicInterpolationMode: 'monotone', fill: false },
      ],
    },
    options: {
      responsive: false,
      animation: false,
      devicePixelRatio: 1,
      events: [],
      layout: { padding: { left: 0, right: p.padRight, top: p.padTop, bottom: 0 } },
      plugins: { legend: { display: false }, tooltip: { enabled: false }, title: { display: false } },
      scales: {
        x: {
          ...axisCommon,
          min: p.xMin, max: p.xMax,
          afterBuildTicks: (s: any) => { s.ticks = p.xTicks.map((v: number) => ({ value: v })); },
          afterFit: (s: any) => { s.height = p.xAxisH; },
          ticks: { autoSkip: false, minRotation: 0, maxRotation: 0, padding: 1.5, color: TICK_TEXT, font: tickFont, callback: (v: any) => String(v) },
        },
        y: {
          ...axisCommon,
          min: p.yMin, max: p.yMax,
          afterBuildTicks: (s: any) => { s.ticks = p.yTicks.map((v: number) => ({ value: v })); },
          afterFit: (s: any) => { s.width = p.yAxisW; },
          ticks: { autoSkip: false, minRotation: 90, maxRotation: 90, crossAlign: 'center', padding: 0, color: TICK_TEXT, font: tickFont, callback: (v: any) => String(v) },
        },
      },
    } as any,
    plugins: [makeDecor(p)],
  } as any);
}

const FRAME_LINES = [
  { l: 30, t: 8, w: 1, h: 217 },
  { l: 8, t: 225, w: 23, h: 1 },
  { l: 8, t: 300, w: 23, h: 1 },
  { l: 30, t: 300, w: 1, h: 229 },
  { l: 30, t: 529, w: 131, h: 1 },
  { l: 160, t: 529, w: 1, h: 31 },
  { l: 555, t: 529, w: 1, h: 31 },
  { l: 555, t: 529, w: 226, h: 1 },
  { l: 780, t: 529, w: 1, h: 31 },
  { l: 1178, t: 529, w: 1, h: 31 },
  { l: 1178, t: 529, w: 56, h: 1 },
  { l: 1233, t: 7, w: 1, h: 523 },
];

export default function App() {
  const refA = useRef<HTMLCanvasElement>(null);
  const refB = useRef<HTMLCanvasElement>(null);
  useEffect(() => {
    const a = buildChart(refA.current as HTMLCanvasElement, PANEL_A);
    const b = buildChart(refB.current as HTMLCanvasElement, PANEL_B);
    return () => { a.destroy(); b.destroy(); };
  }, []);
  return (
    <div style={{ position: 'absolute', left: 0, top: 0, width: 1255, height: 560, background: '#fff', overflow: 'hidden' }}>
      {FRAME_LINES.map((f, i) => (
        <div key={i} style={{ position: 'absolute', left: f.l, top: f.t, width: f.w, height: f.h, background: '#d2d2d2' }} />
      ))}
      <canvas ref={refA} width={PANEL_A.canvasW} height={560} style={{ position: 'absolute', left: 0, top: 0, width: PANEL_A.canvasW, height: 560 }} />
      <canvas ref={refB} width={PANEL_B.canvasW} height={560} style={{ position: 'absolute', left: PANEL_B.offsetX, top: 0, width: PANEL_B.canvasW, height: 560 }} />
    </div>
  );
}
